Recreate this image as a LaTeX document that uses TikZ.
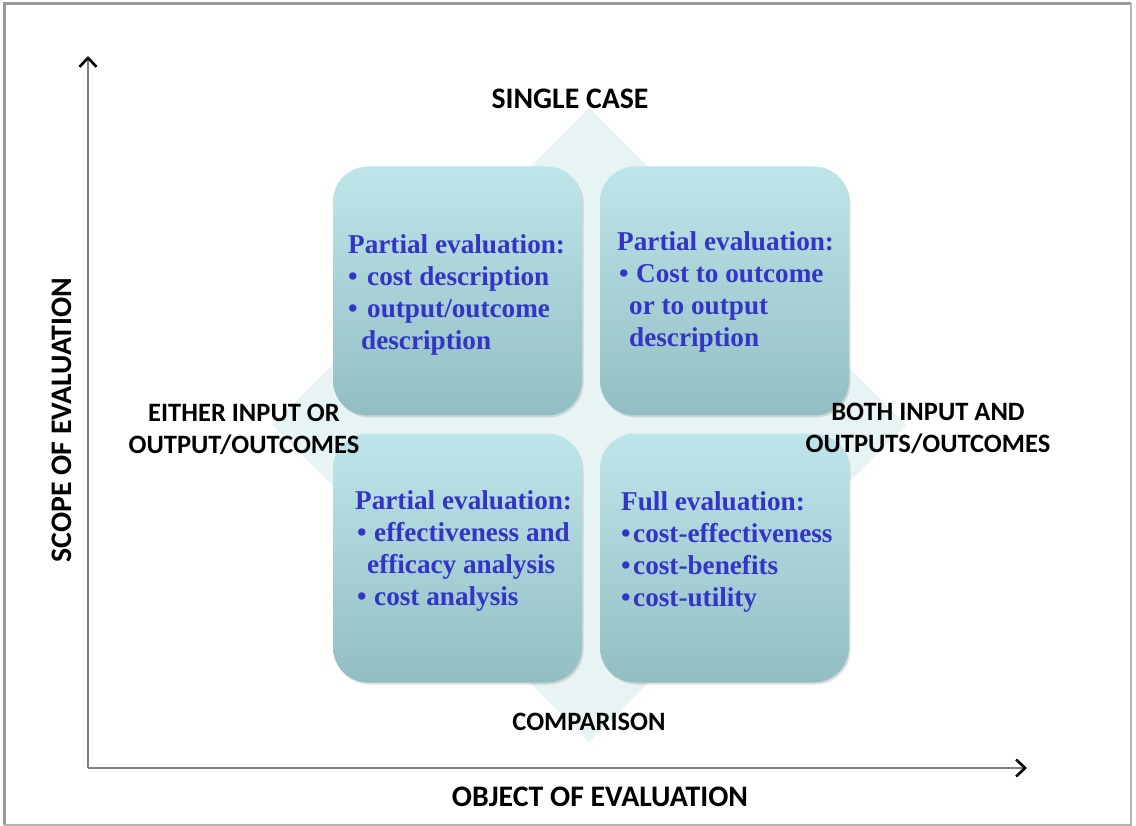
\documentclass[tikz,border=0pt]{standalone}
\usepackage{fontspec}
\setmainfont{Liberation Serif}
\newfontfamily\labelfont{Carlito}
\usetikzlibrary{arrows.meta,shadows}

\definecolor{boxtop}{HTML}{BEE5EA}
\definecolor{boxbot}{HTML}{92BEC3}
\definecolor{diamondfill}{HTML}{E8F3F4}
\definecolor{evalblue}{HTML}{3434C6}
\definecolor{axisgray}{HTML}{808080}

\begin{document}
\begin{tikzpicture}[x=1pt,y=-1pt,
	box/.style={rounded corners=35pt, minimum width=249pt, minimum height=249pt,
		top color=boxtop, bottom color=boxbot, draw=none,
		drop shadow={opacity=0.25, shadow xshift=1.5pt, shadow yshift=-2pt}},
	evaltext/.style={anchor=north west, inner sep=0pt, align=left, text=evalblue,
		font=\fontsize{27.2}{32}\selectfont\bfseries},
	caselabel/.style={inner sep=0pt, align=center, font=\labelfont\fontsize{26.5}{32}\selectfont\bfseries},
	biglabel/.style={caselabel, font=\labelfont\fontsize{29.8}{32}\selectfont\bfseries},
	axis/.style={draw=axisgray, line width=2pt, -{Straight Barb[length=9pt, width=17pt, line width=2.6pt, black]}}]
	\useasboundingbox (0,0) rectangle (1136,826);
	% frame
	\draw[axisgray!80, line width=3pt] (4,825) -- (4,3.5) -- (1131,3.5);
	\draw[axisgray!60, line width=1.5pt] (1131,3.5) -- (1131,825) -- (4,825);
	% background diamond
	\fill[diamondfill] (589,108) -- (906,425) -- (589,742) -- (272,425) -- cycle;
	% four boxes
	\node[box] (tl) at (457.5,291) {};
	\node[box] (tr) at (724.5,291) {};
	\node[box] (bl) at (457.5,558) {};
	\node[box] (br) at (724.5,558) {};
	\node[evaltext] (tltext) at (348,234) {Partial evaluation:\\
		\textbullet\hspace{9.5pt}cost description\\
		\textbullet\hspace{9.5pt}output/outcome\\
		\hspace{13pt}description};
	\node[evaltext] (trtext) at (617,231) {Partial evaluation:\\
		\hspace{2pt}\textbullet\hspace{7.5pt}Cost to outcome\\
		\hspace{12pt}or to output\\
		\hspace{12pt}description};
	\node[evaltext] (bltext) at (355,490) {Partial evaluation:\\
		\hspace{2pt}\textbullet\hspace{7.5pt}effectiveness and\\
		\hspace{12pt}efficacy analysis\\
		\hspace{2pt}\textbullet\hspace{7.5pt}cost analysis};
	\node[evaltext] (brtext) at (621,491) {Full evaluation:\\
		\textbullet\hspace{2.5pt}cost-effectiveness\\
		\textbullet\hspace{2.5pt}cost-benefits\\
		\textbullet\hspace{2.5pt}cost-utility};
	% diamond labels
	\node[biglabel] (single) at (570,99) {SINGLE CASE};
	\node[caselabel] (compare) at (589,722) {COMPARISON};
	\node[caselabel] (either) at (244,429) {EITHER INPUT OR\\OUTPUT/OUTCOMES};
	\node[caselabel] (both) at (928,428) {BOTH INPUT AND\\OUTPUTS/OUTCOMES};
	% axes
	\coordinate (origin) at (88,768);
	\coordinate (ytip) at (88,56);
	\coordinate (xtip) at (1027,768);
	\draw[axis] (origin) -- (ytip);
	\draw[axis] (origin) -- (xtip);
	\node[biglabel, rotate=90] (scope) at (62,420) {SCOPE OF EVALUATION};
	\node[biglabel] (object) at (600,797) {OBJECT OF EVALUATION};
\end{tikzpicture}
\end{document}
